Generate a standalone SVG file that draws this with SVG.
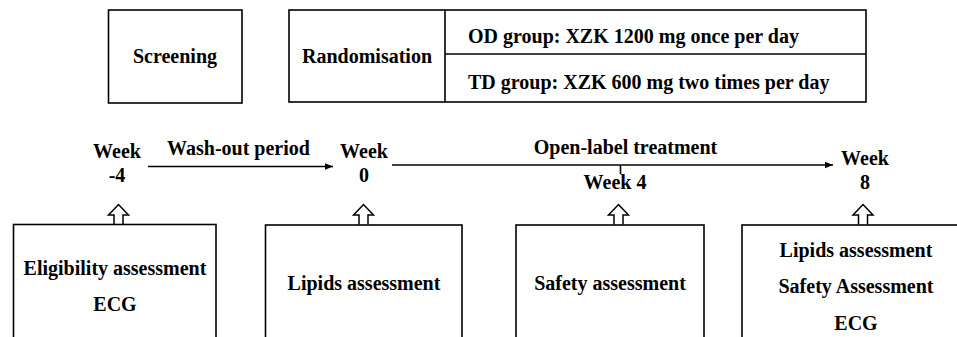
<svg xmlns="http://www.w3.org/2000/svg" width="957" height="337" viewBox="0 0 957 337">
<defs>
<style>
.box{fill:#fff;stroke:#000;stroke-width:1.6}
.ln{fill:none;stroke:#000;stroke-width:1.6}
.t{font-family:"Liberation Serif","Times New Roman",serif;font-weight:bold;font-size:20px;fill:#000;text-anchor:middle}
.ha{fill:#fff;stroke:#000;stroke-width:1.5;stroke-linejoin:miter}
</style>
<marker id="ah" viewBox="0 0 10 10" refX="10" refY="5" markerWidth="5" markerHeight="5" orient="auto" markerUnits="strokeWidth">
<path d="M0,1 L10,5 L0,9 Z" fill="#000"/>
</marker>
</defs>
<rect width="957" height="337" fill="#fff"/>

<g id="screening">
<rect class="box" x="108.5" y="10" width="133.5" height="93"/>
<text class="t" x="175" y="63">Screening</text>
</g>

<g id="randomisation">
<rect class="box" x="289" y="10" width="577" height="92"/>
<line class="ln" x1="445" y1="10" x2="445" y2="102"/>
<line class="ln" x1="445" y1="54" x2="866" y2="54"/>
<text class="t" x="367" y="63">Randomisation</text>
<text class="t" x="468" y="43" style="text-anchor:start">OD group: XZK 1200 mg once per day</text>
<text class="t" x="468" y="89" style="text-anchor:start">TD group: XZK 600 mg two times per day</text>
</g>

<g id="timeline-labels">
<text class="t" x="117" y="158">Week</text>
<text class="t" x="117" y="182">-4</text>
<text class="t" x="238.5" y="155">Wash-out period</text>
<text class="t" x="364" y="158">Week</text>
<text class="t" x="364" y="182">0</text>
<text class="t" x="625.5" y="154">Open-label treatment</text>
<text class="t" x="615" y="189">Week 4</text>
<text class="t" x="865" y="165">Week</text>
<text class="t" x="865" y="189">8</text>
</g>

<g id="connectors">
<line class="ln" x1="148" y1="166.5" x2="333" y2="166.5" marker-end="url(#ah)"/>
<line class="ln" x1="392" y1="165" x2="833" y2="165" marker-end="url(#ah)"/>
<line class="ln" x1="620.5" y1="165" x2="620.5" y2="174"/>
<path class="ha" d="M114,224.5 V215 H108.5 L118.5,204.5 L128.5,215 H123 V224.5"/>
<path class="ha" d="M359,224.5 V215 H353.5 L363.5,204.5 L373.5,215 H368 V224.5"/>
<path class="ha" d="M614,224.5 V215 H608.5 L618.5,204.5 L628.5,215 H623 V224.5"/>
<path class="ha" d="M858.5,224.5 V215 H853 L863,204.5 L873,215 H867.5 V224.5"/>
</g>

<g id="box-week-4">
<rect class="box" x="13.5" y="224.5" width="202.5" height="130"/>
<text class="t" x="115" y="275">Eligibility assessment</text>
<text class="t" x="115" y="311">ECG</text>
</g>

<g id="box-week-0">
<rect class="box" x="265.5" y="225" width="196.5" height="130"/>
<text class="t" x="364" y="290">Lipids assessment</text>
</g>

<g id="box-week4">
<rect class="box" x="516" y="225" width="188" height="130"/>
<text class="t" x="610" y="290">Safety assessment</text>
</g>

<g id="box-week8">
<rect class="box" x="742" y="225" width="240" height="130"/>
<text class="t" x="856" y="257">Lipids assessment</text>
<text class="t" x="856" y="293">Safety Assessment</text>
<text class="t" x="856" y="330">ECG</text>
</g>
</svg>
